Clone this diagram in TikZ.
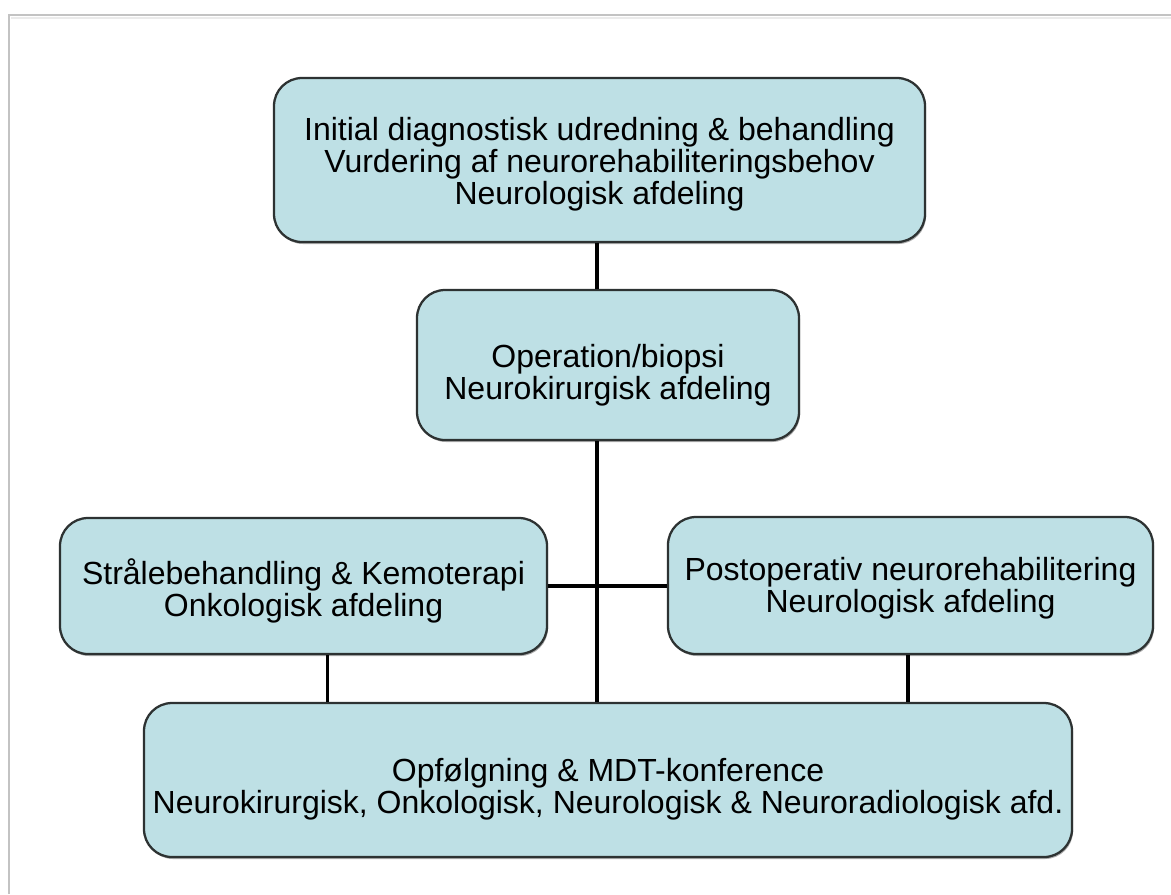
\documentclass[tikz,border=0pt]{standalone}
\usepackage{fontspec}
\setmainfont{Liberation Sans}
\usetikzlibrary{shadows}
\definecolor{boxfill}{RGB}{190,224,229}
\definecolor{boxline}{RGB}{45,50,50}
\definecolor{pageline}{RGB}{195,195,195}
\tikzset{
  box/.style={draw=boxline, line width=1.7pt, fill=boxfill, rounded corners=21pt,
    inner sep=0pt,
    drop shadow={shadow xshift=0.8pt, shadow yshift=-1.5pt, opacity=0.45, fill=black!70}},
  boxtext/.style={align=center, inner sep=0pt, font=\fontsize{24}{24}\selectfont},
  conn/.style={draw=black, line width=2.7pt}
}
\begin{document}
\begin{tikzpicture}[x=0.75pt,y=-0.75pt]
\useasboundingbox (0,0) rectangle (1171,894);
\fill[white] (0,0) rectangle (1171,894);
% page frame
\draw[pageline, line width=1.5pt] (9,894) -- (9,15) -- (1171,15);
\draw[black!8, line width=2pt] (11,18) -- (1171,18);
% nodes
\node[box, minimum width=651*0.75pt, minimum height=164*0.75pt,
  label={[boxtext, yshift=-3pt]center:{Initial diagnostisk udredning \& behandling\\Vurdering af neurorehabiliteringsbehov\\Neurologisk afdeling}}]
  (top) at (599.5,160) {};
\node[box, minimum width=382*0.75pt, minimum height=150*0.75pt,
  label={[boxtext, yshift=-7.5pt]center:{Operation/biopsi\\Neurokirurgisk afdeling}}]
  (op) at (608,365) {};
\node[box, minimum width=487*0.75pt, minimum height=136*0.75pt,
  label={[boxtext, yshift=-3.5pt]center:{Strålebehandling \& Kemoterapi\\Onkologisk afdeling}}]
  (left) at (303.5,586) {};
\node[box, minimum width=485*0.75pt, minimum height=137*0.75pt,
  label={[boxtext, yshift=-2pt]center:{Postoperativ neurorehabilitering\\Neurologisk afdeling}}]
  (right) at (910.5,585.5) {};
\node[box, minimum width=928*0.75pt, minimum height=154*0.75pt,
  label={[boxtext, yshift=-7pt]center:{Opfølgning \& MDT-konference\\Neurokirurgisk, Onkologisk, Neurologisk \& Neuroradiologisk afd.}}]
  (bot) at (608,780) {};
% connectors
\coordinate (spine) at (597,0);
\coordinate (lspine) at (327.5,0);
\coordinate (rspine) at (908,0);
\draw[conn] (spine |- top.south) -- (spine |- op.north);
\draw[conn] (spine |- op.south) -- (spine |- bot.north);
\draw[conn] (left.east) -- (left.east -| right.west);
\draw[conn] (lspine |- left.south) -- (lspine |- bot.north);
\draw[conn] (rspine |- right.south) -- (rspine |- bot.north);
\end{tikzpicture}
\end{document}
